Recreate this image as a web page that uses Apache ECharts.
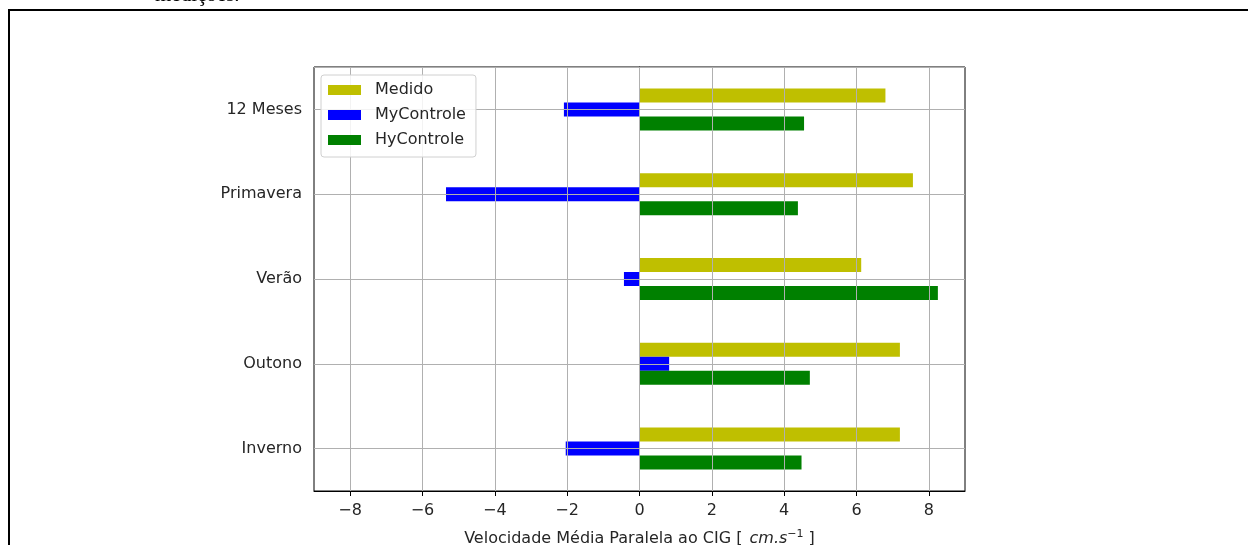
<!DOCTYPE html>
<html>
<head>
<meta charset="utf-8">
<script src="https://cdn.jsdelivr.net/npm/echarts@6/dist/echarts.min.js"></script>
<style>
  html, body { margin: 0; padding: 0; background: #ffffff; }
  #chart { width: 1248px; height: 545px; }
</style>
</head>
<body>
<div id="chart"></div>
<script>
// Mean velocity parallel to the CIG, per season (cm/s)
const categories = ['Inverno', 'Outono', 'Verão', 'Primavera', '12 Meses'];
const medido     = [7.2, 7.2, 6.13, 7.56, 6.8];
const myControle = [-2.04, 0.82, -0.43, -5.35, -2.09];
const hyControle = [4.48, 4.71, 8.25, 4.38, 4.55];
const xTickValues = [-8, -6, -4, -2, 0, 2, 4, 6, 8];

const FONT = 'DejaVu Sans';
const TEXT = '#262626';
const GRID = '#b0b0b0';

const chart = echarts.init(document.getElementById('chart'), null, { renderer: 'canvas' });

const barCommon = { type: 'bar', barWidth: 14, barGap: '0%', yAxisIndex: 0 };

chart.setOption({
  animation: false,
  backgroundColor: '#ffffff',
  textStyle: { fontFamily: FONT },
  grid: {
    left: 314, right: 283, top: 67, bottom: 54,
    outerBoundsMode: 'none',
    containLabel: false,
    show: true, borderColor: '#000', borderWidth: 1, backgroundColor: 'transparent'
  },
  legend: {
    orient: 'vertical',
    left: 321, top: 75,
    padding: [7, 10, 9, 7],
    itemGap: 9,
    itemWidth: 33, itemHeight: 10,
    icon: 'rect',
    backgroundColor: 'rgba(255,255,255,0.85)',
    borderColor: '#d0d0d0', borderWidth: 1, borderRadius: 3,
    z: 10,
    textStyle: { fontFamily: FONT, fontSize: 16, color: TEXT, padding: [0, 0, 0, 9] },
    data: ['Medido', 'MyControle', 'HyControle']
  },
  xAxis: {
    type: 'value',
    min: -9, max: 9, splitNumber: 9,
    z: 5,
    axisLine: { show: true, onZero: false, lineStyle: { color: '#000', width: 1 } },
    axisTick: { show: true, length: 5, customValues: xTickValues, lineStyle: { color: '#000' } },
    axisLabel: {
      customValues: xTickValues, margin: 12,
      fontFamily: FONT, fontSize: 16, color: TEXT,
      formatter: v => (v < 0 ? '\u2212' + Math.abs(v) : String(v))
    },
    splitLine: { show: true, lineStyle: { color: GRID, width: 1 } },
    name: '{n|Velocidade Média Paralela ao CIG [ }{i|cm.s}{sup|\u22121}{n| ]}',
    nameLocation: 'middle',
    nameGap: 38,
    nameTextStyle: {
      rich: {
        n: { fontFamily: FONT, fontSize: 16, color: TEXT },
        i: { fontFamily: FONT, fontStyle: 'italic', fontSize: 16, color: TEXT, padding: [0, 0, 0, 2] },
        sup: { fontFamily: FONT, fontSize: 11, color: TEXT, verticalAlign: 'top', padding: [0, 0, 9, 0] }
      }
    }
  },
  yAxis: [
    {
      type: 'category',
      data: categories,
      axisLine: { show: true, lineStyle: { color: '#000', width: 1 } },
      axisTick: { show: true, alignWithLabel: true, length: 5, lineStyle: { color: '#000' } },
      axisLabel: { margin: 12, fontFamily: FONT, fontSize: 16, color: TEXT },
      splitLine: { show: false }
    },
    {
      // horizontal grid lines through the category centres
      type: 'value',
      min: -0.5, max: 4.5, splitNumber: 5,
      position: 'left',
      z: 5,
      axisLine: { show: false },
      axisTick: { show: false },
      axisLabel: { show: false },
      splitLine: { show: true, lineStyle: { color: GRID, width: 1 } }
    }
  ],
  series: [
    Object.assign({ name: 'Medido', data: medido, itemStyle: { color: '#bfbf00' } }, barCommon),
    Object.assign({ name: 'MyControle', data: myControle, itemStyle: { color: '#0000ff' } }, barCommon),
    Object.assign({ name: 'HyControle', data: hyControle, itemStyle: { color: '#008000' } }, barCommon)
  ],
  graphic: [
    {
      type: 'text',
      left: 155, top: -15,
      style: { text: 'medições.', font: '21px "Liberation Serif"', fill: '#000' },
      silent: true
    },
    {
      type: 'line',
      shape: { x1: 8, y1: 10, x2: 1248, y2: 10 },
      style: { stroke: '#000', lineWidth: 2 },
      silent: true
    },
    {
      type: 'line',
      shape: { x1: 9, y1: 10, x2: 9, y2: 545 },
      style: { stroke: '#000', lineWidth: 2 },
      silent: true
    }
  ]
});
</script>
</body>
</html>
